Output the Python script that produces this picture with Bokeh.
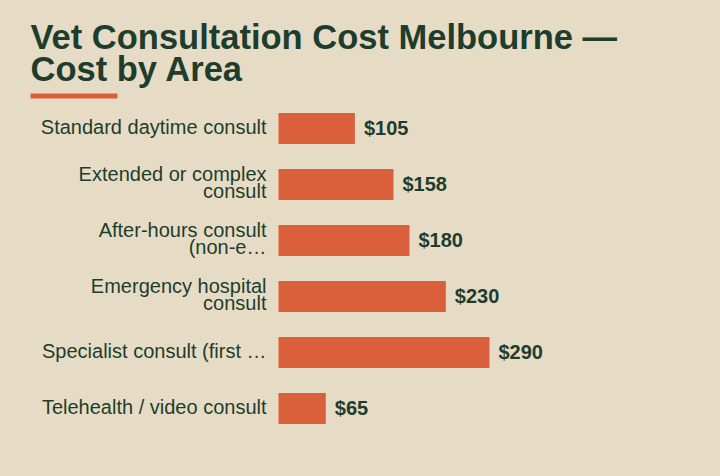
from bokeh.plotting import figure
from bokeh.models import ColumnDataSource, Range1d, Label, BoxAnnotation
from bokeh.core.properties import value
from bokeh.embed import file_html
from bokeh.resources import INLINE

# data
services = [
    "Standard daytime consult",
    "Extended or complex\nconsult",
    "After-hours consult\n(non-e\u2026",
    "Emergency hospital\nconsult",
    "Specialist consult (first \u2026",
    "Telehealth / video consult",
]
costs = [105, 158, 180, 230, 290, 65]
cost_labels = ["$" + str(c) for c in costs]

BG = "#e6dcc6"
INK = "#1e3d2c"
BAR = "#d9603b"
FONT = "Liberation Sans"

W, H = 720, 476
PX_PER = 211 / 290          # pixels per dollar
BAR_X0 = 278                # px where the bars start
ROW = 56                    # row pitch in px
TOP_ROW = 128               # px of first row centre

rows = list(range(len(services)))
source = ColumnDataSource(dict(
    y=rows, cost=costs, name=services, lab=cost_labels,
))

p = figure(
    width=W, height=H,
    x_range=Range1d(-BAR_X0 / PX_PER, (W - BAR_X0) / PX_PER),
    y_range=Range1d((H - TOP_ROW) / ROW, -TOP_ROW / ROW),
    x_axis_location=None, y_axis_location=None,
    toolbar_location=None, output_backend="svg",
    min_border=0,
)
p.background_fill_color = BG
p.border_fill_color = BG
p.outline_line_color = None
p.grid.visible = False

p.hbar(y="y", left=0, right="cost", height=31 / ROW, source=source,
       fill_color=BAR, line_color=None)

# category labels
p.text(x=0, y="y", text="name", source=source, x_offset=-12, y_offset=-2,
       text_align="right", text_baseline="middle",
       text_font=value(FONT), text_font_size="20px",
       text_color=INK, text_line_height=0.8)

# value labels
p.text(x="cost", y="y", text="lab", source=source, x_offset=9, y_offset=-1,
       text_align="left", text_baseline="middle",
       text_font=value(FONT), text_font_size="20px", text_font_style="bold",
       text_color=INK)

# title
p.add_layout(Label(
    x=30, y=H - 17, x_units="screen", y_units="screen",
    text="Vet Consultation Cost Melbourne \u2014\nCost by Area",
    text_font=FONT, text_font_size="34.5px", text_font_style="bold",
    text_color=INK, text_baseline="top", text_line_height=0.86,
))

# accent underline
p.add_layout(BoxAnnotation(
    left=30, right=117, top=H - 93, bottom=H - 98,
    left_units="screen", right_units="screen",
    top_units="screen", bottom_units="screen",
    fill_color=BAR, fill_alpha=1.0, line_color=None,
))

html = file_html(p, INLINE)
html = html.replace("<head>", "<head><style>body{background:%s;}</style>" % BG, 1)
open("out.html", "w").write(html)
